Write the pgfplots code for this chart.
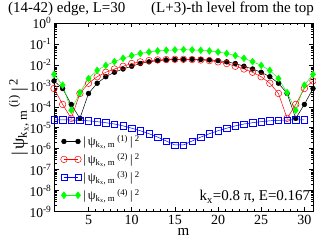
\documentclass[border=0pt]{standalone}
\usepackage{fontspec}
\setmainfont{Liberation Serif}
\usepackage{pgfplots}
\pgfplotsset{compat=1.18}
\definecolor{ggreen}{RGB}{0,255,0}
\newcommand{\psil}[1]{|\,ψ\textsubscript{k\textsubscript{x}, m}\,\textsuperscript{(#1)}\,|\,\textsuperscript{2}}
\begin{document}
\begin{tikzpicture}
\useasboundingbox (0pt,0pt) rectangle (316pt,246pt);
\node[anchor=base west, inner sep=0, font=\fontsize{15}{17}\selectfont] at (8pt,233pt) {(14-42) edge, L=30};
\node[anchor=base west, inner sep=0, font=\fontsize{15}{17}\selectfont] at (151pt,233pt) {(L+3)-th level from the top};
\begin{axis}[
  at={(54pt,34.3pt)}, anchor=south west,
  width=259pt, height=188.9pt, scale only axis,
  ymode=log, xmin=1, xmax=31, ymin=1e-9, ymax=1,
  xtick={5,10,15,20,25,30}, xticklabels={5,10,15,20,25,30},
  minor x tick num=5,
  ytick={1e-9,1e-8,1e-7,1e-6,1e-5,1e-4,1e-3,1e-2,1e-1,1},
  yticklabels={10\textsuperscript{-9},10\textsuperscript{-8},10\textsuperscript{-7},10\textsuperscript{-6},10\textsuperscript{-5},10\textsuperscript{-4},10\textsuperscript{-3},10\textsuperscript{-2},10\textsuperscript{-1},10\textsuperscript{0}},
  tick align=inside, xtick pos=both, ytick pos=both,
  major tick length=4.5pt, minor tick length=2.5pt,
  tick style={black, line width=0.5pt},
  axis line style={line width=0.6pt},
  ticklabel style={font=\fontsize{14}{16}\selectfont},
  yticklabel style={xshift=1pt, font=\fontsize{13.5}{15}\selectfont},
  xlabel={m}, xlabel style={font=\fontsize{15}{17}\selectfont, yshift=3pt},
  ylabel={\psil{i}}, ylabel style={font=\fontsize{18}{20}\selectfont, yshift=-6pt},
  legend style={draw=none, fill=none, at={(0.025,0.415)}, anchor=north west,
     font=\fontsize{12.5}{14}\selectfont, row sep=2pt, inner sep=0pt},
  legend cell align=left,
  legend image code/.code={\draw[mark repeat=1] plot coordinates {(0pt,0pt) (14pt,0pt)};},
  every axis plot/.append style={line width=0.5pt},
]
\addplot[black, mark=*, mark size=2.4pt] coordinates {
(1,1.70e-3)(2,7.4e-4)(3,1.29e-4)(4,2.8e-5)(5,4.3e-4)(6,1.32e-3)(7,2.7e-3)(8,4.4e-3)
(9,6.3e-3)(10,8.5e-3)(11,1.15e-2)(12,1.38e-2)(13,1.58e-2)(14,1.70e-2)(15,1.78e-2)(16,1.82e-2)
(17,1.82e-2)(18,1.78e-2)(19,1.70e-2)(20,1.58e-2)(21,1.38e-2)(22,1.15e-2)(23,8.5e-3)(24,6.3e-3)
(25,4.4e-3)(26,2.7e-3)(27,1.32e-3)(28,4.3e-4)(29,2.8e-5)(30,1.29e-4)(31,7.4e-4)};
\addlegendentry{\psil{1}}
\addplot[red, mark=o, mark size=3.3pt] coordinates {
(1,7.4e-4)(2,1.29e-4)(3,2.8e-5)(4,4.3e-4)(5,1.32e-3)(6,2.7e-3)(7,4.4e-3)(8,6.3e-3)
(9,8.5e-3)(10,1.15e-2)(11,1.38e-2)(12,1.58e-2)(13,1.70e-2)(14,1.78e-2)(15,1.82e-2)(16,1.82e-2)
(17,1.78e-2)(18,1.70e-2)(19,1.58e-2)(20,1.38e-2)(21,1.15e-2)(22,8.5e-3)(23,6.3e-3)(24,4.4e-3)
(25,2.7e-3)(26,1.32e-3)(27,4.3e-4)(28,2.8e-5)(29,1.29e-4)(30,7.4e-4)(31,1.70e-3)};
\addlegendentry{\psil{2}}
\addplot[blue, mark=square, mark size=3.2pt] coordinates {
(1,2.4e-5)(2,2.4e-5)(3,2.34e-5)(4,2.24e-5)(5,2.14e-5)(6,1.95e-5)(7,1.74e-5)(8,1.51e-5)
(9,1.23e-5)(10,9.5e-6)(11,7.2e-6)(12,5.2e-6)(13,3.6e-6)(14,2.34e-6)(15,1.51e-6)(16,1.51e-6)
(17,2.34e-6)(18,3.6e-6)(19,5.2e-6)(20,7.2e-6)(21,9.5e-6)(22,1.23e-5)(23,1.51e-5)(24,1.74e-5)
(25,1.95e-5)(26,2.14e-5)(27,2.24e-5)(28,2.34e-5)(29,2.4e-5)(30,2.4e-5)};
\addlegendentry{\psil{3}}
\addplot[ggreen, mark=diamond*, mark size=3.4pt] coordinates {
(1,3.47e-3)(2,1.07e-3)(3,6.8e-5)(4,4.7e-4)(5,2.2e-3)(6,5.4e-3)(7,9.3e-3)(8,1.41e-2)
(9,2.04e-2)(10,2.75e-2)(11,3.47e-2)(12,4.07e-2)(13,4.57e-2)(14,4.9e-2)(15,5.13e-2)(16,5.25e-2)
(17,5.13e-2)(18,4.9e-2)(19,4.57e-2)(20,4.07e-2)(21,3.47e-2)(22,2.75e-2)(23,2.04e-2)(24,1.41e-2)
(25,9.3e-3)(26,5.4e-3)(27,2.2e-3)(28,4.7e-4)(29,6.8e-5)(30,1.07e-3)(31,3.47e-3)};
\addlegendentry{\psil{4}}
\node[anchor=base east, inner sep=0, font=\fontsize{15}{17}\selectfont] at (rel axis cs:0.99,0.057) {k\textsubscript{x}=0.8 π, E=0.167};
\end{axis}
\end{tikzpicture}
\end{document}
